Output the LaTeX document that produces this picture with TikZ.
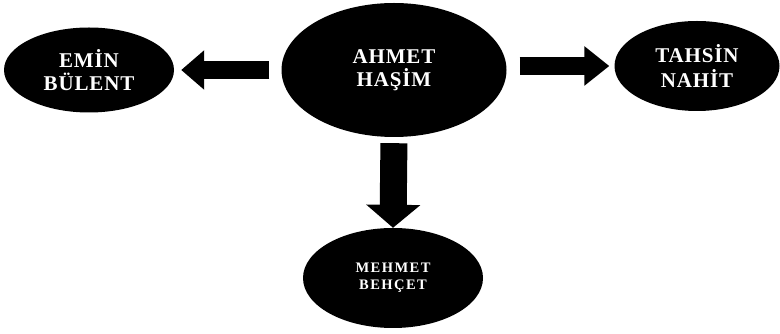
\documentclass[tikz,border=0pt]{standalone}
\usepackage{fontspec}
\setmainfont{Liberation Serif}
\newfontfamily\bigsp[LetterSpace=4]{Liberation Serif}
\newfontfamily\smallsp[LetterSpace=10]{Liberation Serif}
\usetikzlibrary{shapes.geometric,arrows.meta}
\tikzset{
  blob/.style={ellipse, fill=black, inner sep=0pt, text=white, align=center},
  bigtext/.style={font=\bigsp\bfseries\fontsize{21}{23}\selectfont},
  smalltext/.style={font=\smallsp\bfseries\fontsize{14.5}{17}\selectfont},
  blockarrow/.style={draw=black, line cap=butt},
}
\begin{document}
\begin{tikzpicture}[x=1pt,y=1pt]
\useasboundingbox (0,0) rectangle (780,334);
\node[blob, bigtext, minimum width=225pt, minimum height=134pt] (ahmet) at (394,264) {AHMET\\HAŞİM};
\node[blob, bigtext, minimum width=170pt, minimum height=85pt] (emin) at (89,264) {EMİN\\BÜLENT};
\node[blob, bigtext, minimum width=165pt, minimum height=90pt] (tahsin) at (697,268) {TAHSİN\\[2pt]NAHİT};
\node[blob, smalltext, minimum width=180pt, minimum height=100pt] (mehmet) at (393,56) {MEHMET\\BEHÇET};
\draw[blockarrow, line width=18pt, -{Triangle[length=23pt,width=38pt]}, shorten <=12pt, shorten >=7pt] (ahmet.west) -- (emin.east);
\draw[blockarrow, line width=18pt, -{Triangle[length=25pt,width=38pt]}, shorten <=13pt, shorten >=5pt] (ahmet.east |- tahsin.west) -- (tahsin.west);
\draw[blockarrow, line width=27pt, -{Triangle[length=23pt,width=53pt]}, shorten <=6pt, shorten >=0pt] (ahmet.south) -- (mehmet.north);
\end{tikzpicture}
\end{document}
